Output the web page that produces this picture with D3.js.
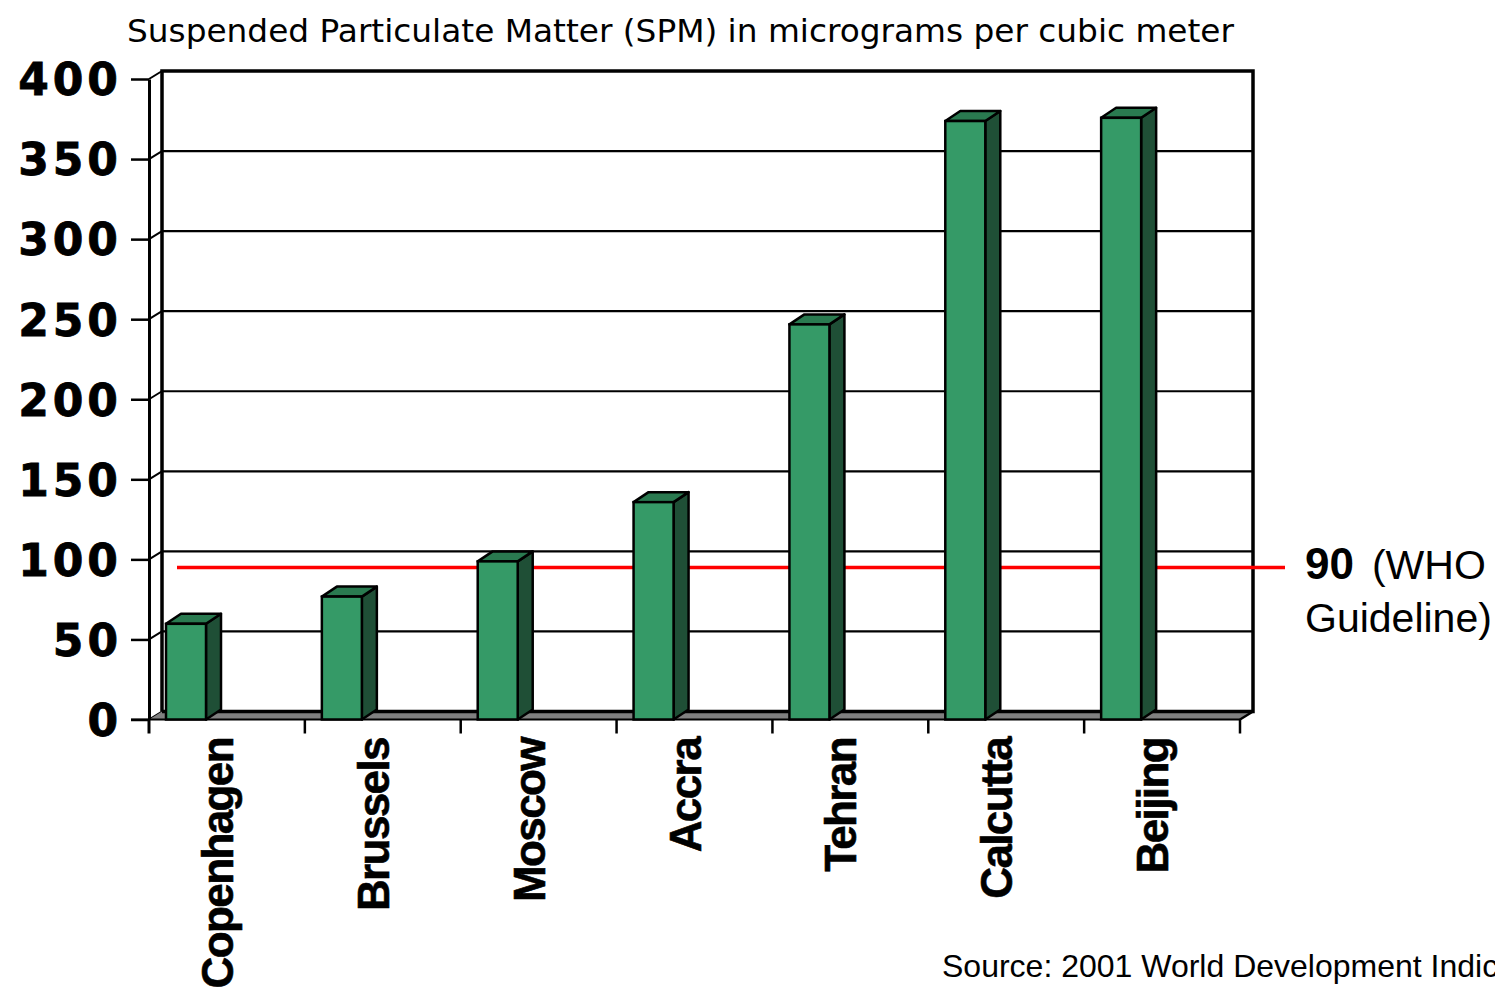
<!DOCTYPE html>
<html>
<head>
<meta charset="utf-8">
<script src="https://cdn.jsdelivr.net/npm/d3@7"></script>
<style>
  html, body { margin: 0; padding: 0; background: #fff; }
  svg { display: block; }
</style>
</head>
<body>
<svg id="chart" width="1495" height="998"></svg>
<script>
// Suspended particulate matter by city
const categories = ["Copenhagen", "Brussels", "Moscow", "Accra", "Tehran", "Calcutta", "Beijing"];
const spm = [61, 78, 100, 137, 248, 375, 377];
const yTicks = [0, 50, 100, 150, 200, 250, 300, 350, 400];
const whoGuideline = 90;

const svg = d3.select("#chart");

// Plot box: front plane and back wall are offset to fake depth
const wallDx = 13, wallDy = -8;
const barDx = 15, barDy = -10;
const x = d3.scaleBand().domain(categories).range([149, 1240]).paddingInner(0).paddingOuter(0);
const yBack = d3.scaleLinear().domain([0, 400]).range([711.5, 71]);
const yFront = d3.scaleLinear().domain([0, 400]).range([711.5 - wallDy, 71 - wallDy]);

const x0 = x.range()[0], x1 = x.range()[1];
const bx0 = x0 + wallDx, bx1 = x1 + wallDx;

// Back wall gridlines
svg.append("g").selectAll("line").data(yTicks.filter(v => v > 0 && v < 400)).join("line")
  .attr("x1", bx0).attr("x2", bx1)
  .attr("y1", d => yBack(d)).attr("y2", d => yBack(d))
  .attr("stroke", "#000").attr("stroke-width", 2.2);

// Side wall diagonals joining the front ticks to the back gridlines
svg.append("g").selectAll("line").data(yTicks).join("line")
  .attr("x1", x0).attr("x2", bx0)
  .attr("y1", d => yFront(d)).attr("y2", d => yBack(d))
  .attr("stroke", "#000").attr("stroke-width", 2);

// Floor
svg.append("polygon")
  .attr("points", [[x0, yFront(0)], [bx0, yBack(0)], [bx1, yBack(0)], [x1, yFront(0)]].join(" "))
  .attr("fill", "#808080").attr("stroke", "none");
svg.append("line").attr("x1", 131).attr("x2", x1).attr("y1", yFront(0)).attr("y2", yFront(0))
  .attr("stroke", "#000").attr("stroke-width", 2);
svg.append("line").attr("x1", x1).attr("x2", bx1).attr("y1", yFront(0)).attr("y2", yBack(0))
  .attr("stroke", "#000").attr("stroke-width", 2.5);

// Wall frame
svg.append("path")
  .attr("d", `M${bx0},${yBack(0)} V${yBack(400)} H${bx1} V${yBack(0)} H${bx0}`)
  .attr("fill", "none").attr("stroke", "#000").attr("stroke-width", 3.5);

// WHO guideline
svg.append("line")
  .attr("x1", 177).attr("x2", 1285)
  .attr("y1", yBack(whoGuideline)).attr("y2", yBack(whoGuideline))
  .attr("stroke", "#ff0000").attr("stroke-width", 3.5);

// Front value axis
const yAxis = svg.append("g")
  .attr("transform", `translate(${x0},0)`)
  .call(d3.axisLeft(yFront).tickValues(yTicks).tickSize(18).tickSizeOuter(0).tickPadding(9));
yAxis.select(".domain").attr("stroke", "#000").attr("stroke-width", 3);
yAxis.selectAll(".tick line").attr("stroke", "#000").attr("stroke-width", 2.5);
yAxis.selectAll(".tick text")
  .attr("fill", "#000")
  .attr("font-family", "'DejaVu Sans', Verdana, sans-serif")
  .attr("font-weight", "bold")
  .attr("font-size", 44)
  .attr("letter-spacing", 4)
  .attr("stroke", "#000").attr("stroke-width", 0.8)
  .attr("dy", "0.36em");
svg.append("line").attr("x1", x0).attr("x2", x0).attr("y1", yFront(0)).attr("y2", yFront(0) + 14)
  .attr("stroke", "#000").attr("stroke-width", 3);

// Category ticks on band boundaries
const bounds = categories.map(c => x(c)).concat([x1]);
svg.append("g").selectAll("line").data(bounds.slice(1)).join("line")
  .attr("x1", d => d).attr("x2", d => d)
  .attr("y1", yFront(0)).attr("y2", yFront(0) + 14)
  .attr("stroke", "#000").attr("stroke-width", 2.5);

// Bars
const barOffset = 17, barW = 40;
const bars = svg.append("g").selectAll("g").data(categories.map((c, i) => ({ c, v: spm[i] }))).join("g");
const bottom = yFront(0);
bars.each(function(d) {
  const g = d3.select(this);
  const l = x(d.c) + barOffset, r = l + barW;
  const top = yBack(d.v) - barDy;
  g.append("polygon")
    .attr("points", [[r, top], [r + barDx, top + barDy], [r + barDx, bottom + barDy], [r, bottom]].join(" "))
    .attr("fill", "#1f4f36").attr("stroke", "#000").attr("stroke-width", 2.5).attr("stroke-linejoin", "round");
  g.append("polygon")
    .attr("points", [[l, top], [l + barDx, top + barDy], [r + barDx, top + barDy], [r, top]].join(" "))
    .attr("fill", "#2a7a50").attr("stroke", "#000").attr("stroke-width", 2.5).attr("stroke-linejoin", "round");
  g.append("rect")
    .attr("x", l).attr("y", top).attr("width", barW).attr("height", bottom - top)
    .attr("fill", "#359a67").attr("stroke", "#000").attr("stroke-width", 2.5);
});

// Category labels, rotated
svg.append("g").selectAll("text").data(categories).join("text")
  .attr("transform", d => `translate(${x(d) + 84},738) rotate(-90)`)
  .attr("text-anchor", "end")
  .attr("font-family", "'Liberation Sans', Arial, sans-serif")
  .attr("font-weight", "bold")
  .attr("font-size", 44)
  .attr("letter-spacing", -1.6)
  .attr("stroke", "#000").attr("stroke-width", 0.6)
  .attr("fill", "#000")
  .text(d => d);

// Title
svg.append("text")
  .attr("x", 127).attr("y", 42)
  .attr("font-family", "Tahoma, 'DejaVu Sans', sans-serif")
  .attr("font-size", 32)
  .attr("textLength", 1107).attr("lengthAdjust", "spacingAndGlyphs")
  .attr("fill", "#000")
  .text("Suspended Particulate Matter (SPM) in micrograms per cubic meter");

// Guideline label
const who = svg.append("text").attr("x", 1305).attr("y", 579)
  .attr("font-family", "'Liberation Sans', Arial, sans-serif").attr("fill", "#000");
who.append("tspan").attr("font-weight", "bold").attr("font-size", 44).text(whoGuideline);
who.append("tspan").attr("font-size", 41).attr("dx", 18).text("(WHO");
svg.append("text").attr("x", 1305).attr("y", 632)
  .attr("font-family", "'Liberation Sans', Arial, sans-serif").attr("font-size", 41).attr("fill", "#000")
  .text("Guideline)");

// Source, running off the right edge of the page
svg.append("text").attr("x", 942).attr("y", 977)
  .attr("font-family", "'Liberation Sans', Arial, sans-serif").attr("font-size", 32).attr("fill", "#000")
  .text("Source: 2001 World Development Indicators");
</script>
</body>
</html>
